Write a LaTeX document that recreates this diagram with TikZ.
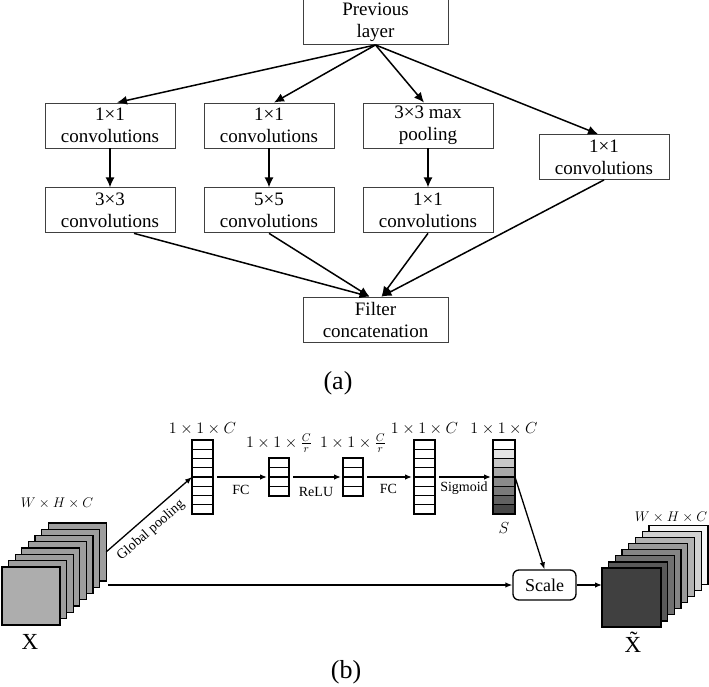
\documentclass[tikz,border=0pt]{standalone}
\usepackage{fix-cm}
\usepackage{fontspec}
\setmainfont{Liberation Serif}
\usetikzlibrary{arrows.meta}
\usetikzlibrary{positioning}

\begin{document}
\begin{tikzpicture}[x=1pt,y=-1pt,->,>={Latex[length=10pt,width=9pt]},
  line width=1.5pt,node distance=39pt,
  box/.style={draw=black!75,line width=0.9pt,minimum width=130pt,minimum height=45pt,inner sep=0pt,align=center,font=\fontsize{19}{22}\selectfont},
  sheet/.style={draw,line width=1.3pt,inner sep=0pt,outer sep=0pt},
  vec/.style={draw,line width=1.8pt,minimum width=21pt,inner sep=0pt,outer sep=0pt},
  cell/.style={-,line width=1.3pt},
  lbl/.style={font=\fontsize{14}{16}\selectfont},
  dim/.style={font=\fontsize{16}{18}\selectfont},
  small/.style={-{Latex[length=7pt,width=5.5pt]},line width=1.3pt}]

  \useasboundingbox (0,0) rectangle (709,687);

  \node[box,minimum width=145pt] (p) at (375.5,22) {Previous\\layer};
  \node[box] (c1) at (110,125.5) {1×1\\convolutions};
  \node[box] (c2) at (269,125.5) {1×1\\convolutions};
  \node[box] (c3) at (428,125.5) {3×3 max\\pooling};
  \node[box] (c4) at (604,157) {1×1\\convolutions};
  \node[box] (d1) [below=of c1] {3×3\\convolutions};
  \node[box] (d2) [below=of c2] {5×5\\convolutions};
  \node[box] (d3) [below=of c3] {1×1\\convolutions};
  \node[box,minimum width=145pt] (f) at (375.5,319.5) {Filter\\concatenation};
  \node[font=\fontsize{26}{28}\selectfont] (a) at (338,383) {(a)};

  \path
    (p.south) edge ([xshift=7pt]c1.north)
    (p.south) edge ([xshift=5pt]c2.north)
    (p.south) edge ([xshift=-4pt]c3.north)
    (p.south) edge ([xshift=-6pt]c4.north)
    (c1) edge (d1)
    (c2) edge (d2)
    (c3) edge (d3)
    ([xshift=24pt]d1.south) edge ([xshift=-6pt]f.north)
    (d2.south) edge ([xshift=-6pt]f.north)
    (d3.south) edge ([xshift=6pt]f.north)
    (c4.south) edge ([xshift=6pt]f.north);

  \foreach \i/\c in {7/black!38,6/black!38,5/black!38,4/black!38,3/black!38,2/black!38,1/black!38,0/black!32}
    \node[sheet,minimum size=58pt,fill=\c] (x\i) at ({31+6.6*\i},{596-6.3*\i}) {};
  \foreach \i/\c in {7/black!3,6/black!18,5/black!30,4/black!40,3/black!48,2/black!56,1/black!65,0/black!75}
    \node[sheet,minimum size=59pt,fill=\c] (y\i) at ({631.5+6.7*\i},{597.5-6.1*\i}) {};

  \node[dim,font=\fontsize{14}{16}\selectfont] (xa) at (57,503) {$W\times H\times C$};
  \node[dim,font=\fontsize{14}{16}\selectfont] (ya) at (671,517) {$W\times H\times C$};
  \node[font=\fontsize{23}{25}\selectfont] (xl) at (30,642) {X};
  \node[font=\fontsize{23}{25}\selectfont] (yl) at (633,642) {\~{X}};
  \node[font=\fontsize{26}{28}\selectfont] (b) at (346,672) {(b)};

  \node[vec,minimum height=74pt] (v1) at (202.5,477) {};
  \node[vec,minimum width=20pt,minimum height=38pt] (r1) at (279,477) {};
  \node[vec,minimum width=20pt,minimum height=38pt] (r2) at (353,477) {};
  \node[vec,minimum height=74pt] (v2) at (424.5,477) {};
  \foreach \k/\c in {0/white,1/black!10,2/black!22,3/black!34,4/black!46,5/black!52,6/black!62,7/black!72}
    \fill[-,\c] (493,{440+9.25*\k}) rectangle +(22,9.25);
  \node[vec,minimum width=22pt,minimum height=74pt] (s) at (504,477) {};

  \foreach \n in {v1,v2,s}
    \foreach \k in {1,...,7}
      \draw[cell] ([yshift=-\k*9.25pt]\n.north west) -- ([yshift=-\k*9.25pt]\n.north east);
  \foreach \n in {r1,r2}
    \foreach \k in {1,2,3}
      \draw[cell] ([yshift=-\k*9.5pt]\n.north west) -- ([yshift=-\k*9.5pt]\n.north east);

  \node[dim] (v1a) [above=1pt of v1] {$1\times1\times C$};
  \node[dim] (r1a) [above=1pt of r1] {$1\times1\times\frac{C}{r}$};
  \node[dim] (r2a) [above=1pt of r2] {$1\times1\times\frac{C}{r}$};
  \node[dim] (v2a) [above=1pt of v2] {$1\times1\times C$};
  \node[dim] (sa) [above=1pt of s] {$1\times1\times C$};
  \node[dim] (sb) [below=4pt of s] {$S$};

  \node[draw,line width=1.3pt,rounded corners=6pt,minimum width=63pt,minimum height=30pt,
    font=\fontsize{18}{20}\selectfont] (sc) at (544.5,585) {Scale};
  \coordinate (xo) at (108,585);

  \path[small]
    (x7.east) edge node[lbl,sloped,below=3pt,pos=0.42] (gp) {Global pooling} (v1.west)
    (xo) edge (sc)
    (s.east) edge (sc.north)
    (sc.east) edge (sc.east -| y0.west);
  \path[small,shorten <=4pt,shorten >=2pt]
    (v1) edge node[lbl,below=4pt] (fc1) {FC} (r1)
    (r1) edge node[lbl,below=6pt] (relu) {ReLU} (r2)
    (r2) edge node[lbl,below=3pt] (fc2) {FC} (v2)
    (v2) edge node[lbl,below=1pt] (sig) {Sigmoid} (s);
\end{tikzpicture}
\end{document}
